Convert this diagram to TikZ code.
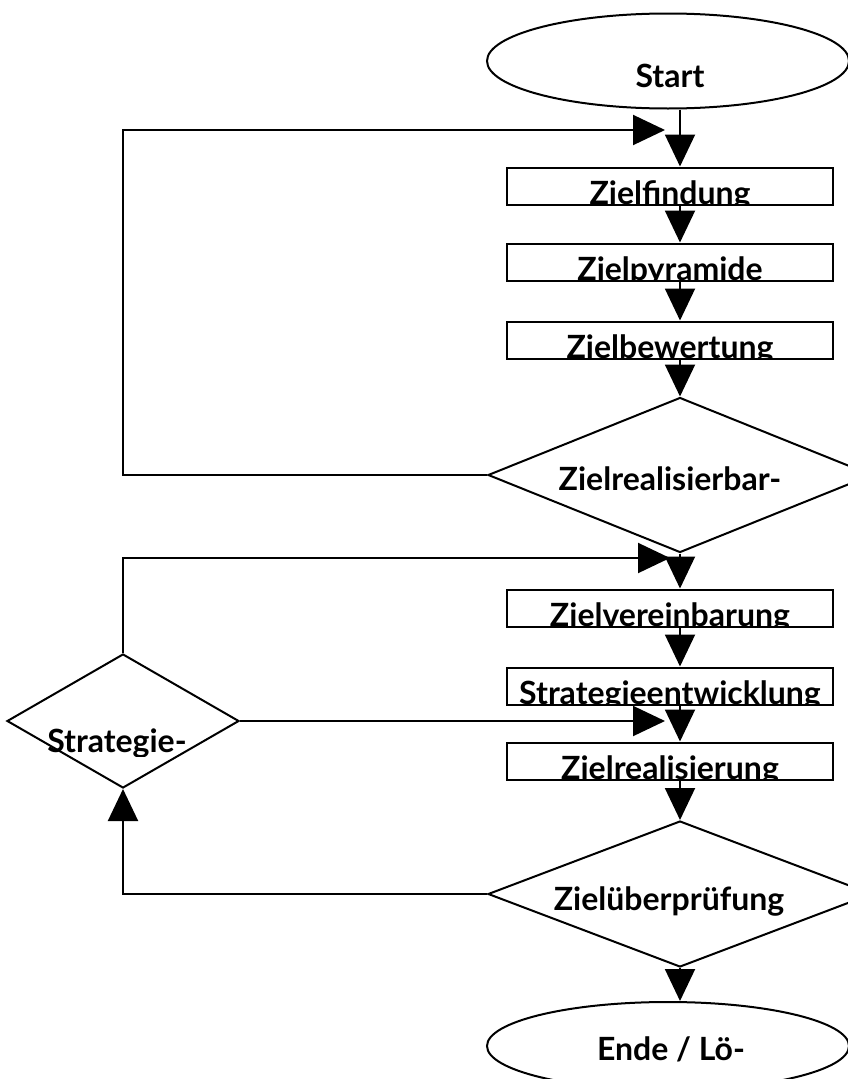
\documentclass[tikz,border=0pt]{standalone}
\usepackage{fontspec}
\setmainfont{Lato}
\usetikzlibrary{calc}
\usetikzlibrary{arrows.meta}
\usetikzlibrary{shapes.geometric}

\begin{document}
\begin{tikzpicture}[x=1pt, y=-1pt, line width=2pt, >={Triangle[length=32pt,width=30pt]},
 box/.style={draw, minimum width=326pt, minimum height=37pt, inner sep=0pt},
 rhomb/.style={draw, diamond, inner sep=0pt},
 oval/.style={draw, ellipse, minimum width=362pt, inner sep=0pt},
 txt/.style={font=\bfseries\fontsize{32}{32}\selectfont, inner sep=0pt, anchor=base}]
\clip (0,0) rectangle (848,1079);
\coordinate (axis) at (680,0);

\node[oval, minimum height=95pt] (start) at (668,61) {};
\node[txt] at (670,87) {Start};

\foreach \n/\y/\lbl in {zf/186/Zielfindung, zp/262/Zielpyramide, zb/340/Zielbewertung,
 zv/608/Zielvereinbarung, se/686/Strategieentwicklung, zr/761/Zielrealisierung} {
 \node[box] (\n) at (670,\y) {};
 \begin{scope}
 \clip ($(\n.north west)+(2,2)$) rectangle ($(\n.south east)+(-2,-2)$);
 \node[txt] at ($(\n.south)+(0,-1)$) {\lbl};
 \end{scope}
}

\node[rhomb, minimum width=384pt, minimum height=155pt] (d1) at (680,475) {};
\node[txt] at (670,490) {Zielrealisierbar-};

\node[rhomb, minimum width=384pt, minimum height=146pt] (d2) at (680,894) {};
\node[txt] at (669,910) {Zielüberprüfung};

\node[rhomb, minimum width=232pt, minimum height=134pt] (s) at (123,721) {};
\begin{scope}
\clip (0,690) rectangle (240,756);
\node[txt] at (117,752) {Strategie-};
\end{scope}

\node[oval, minimum height=88pt] (ende) at (668,1046) {};
\node[txt] at (671,1060) {Ende / Lö-};

\draw[->] (start.south -| axis) -- (zf.north -| axis);
\foreach \a/\b in {zf/zp, zp/zb, zv/se, se/zr}
 \draw[->] (\a.south -| axis) -- (\b.north -| axis);
\draw[->] (zb.south -| axis) -- (d1.north);
\draw[->] (d1.south) -- (zv.north -| axis);
\draw[->] (zr.south -| axis) -- (d2.north);
\draw[->] (d2.south) -- (d2.south |- ende.north);

\coordinate (c1) at (123,130);
\coordinate (tip1) at (665,130);
\coordinate (tip2) at (670,558);
\coordinate (tip3) at (665,721);
\draw[->] (d1.west) -| (c1) -- (tip1);
\draw[->] (s.north) |- (tip2);
\draw[->] (s.east) -- (tip3);
\draw[->] (d2.west) -| (s.south);
\end{tikzpicture}
\end{document}
